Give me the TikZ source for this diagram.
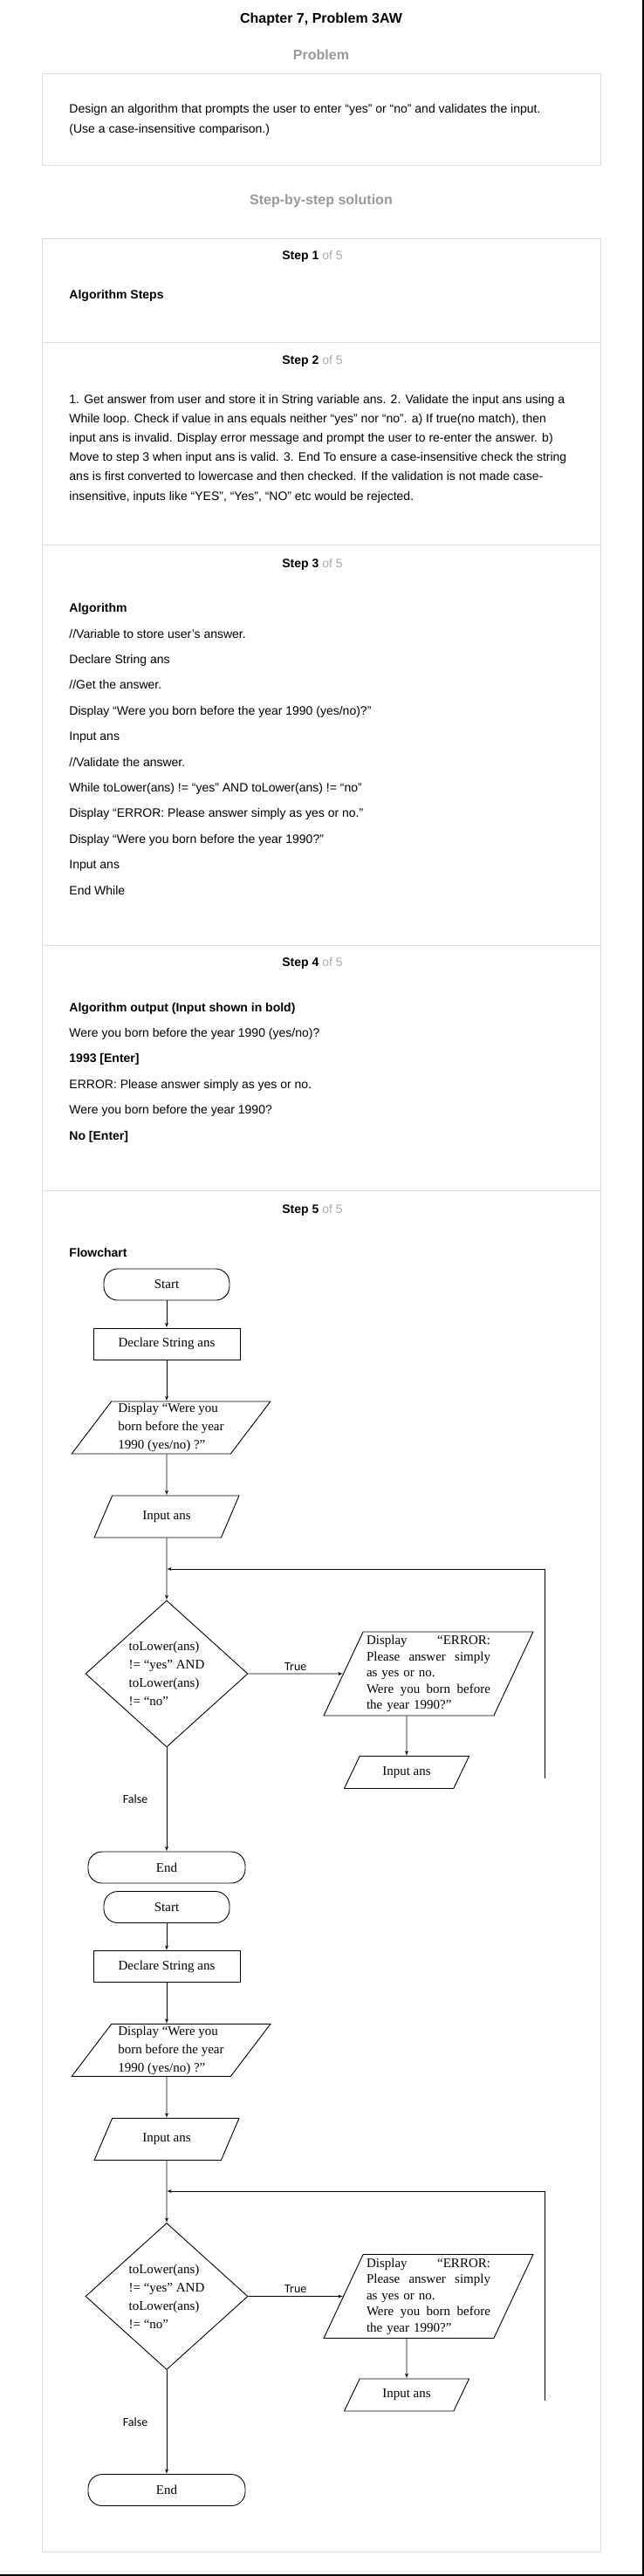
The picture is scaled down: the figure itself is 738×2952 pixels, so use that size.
\documentclass[tikz,border=0pt]{standalone}
\usepackage{fontspec}
\setmainfont{Liberation Sans}
\newfontfamily\chartfont{Liberation Serif}
\newfontfamily\calfont{Carlito}
\definecolor{panelgray}{RGB}{221, 221, 221}
\definecolor{headgray}{RGB}{153, 153, 153}
\definecolor{stepgray}{RGB}{170, 170, 170}
\usetikzlibrary{shapes,arrows}
\tikzstyle{panel} = [draw=panelgray, line width=1pt]
\tikzstyle{title} = [font=\fontsize{16}{19}\selectfont\bfseries]
\tikzstyle{heading} = [title, text=headgray]
\tikzstyle{steplabel} = [font=\fontsize{14}{17}\selectfont]
\tikzstyle{para} = [anchor=base west, align=left, inner sep=0pt,
    font=\fontsize{14}{22.2}\selectfont]
\tikzstyle{listing} = [para, font=\fontsize{14}{29.4}\selectfont]
\tikzstyle{terminal} = [rectangle, draw, rounded corners=16pt,
    minimum height=36pt, font=\chartfont\fontsize{15}{18}\selectfont]
\tikzstyle{block} = [rectangle, draw, minimum width=168pt,
    minimum height=36pt, font=\chartfont\fontsize{15}{18}\selectfont]
\tikzstyle{io} = [trapezium, draw, trapezium stretches=true, inner sep=0pt,
    align=left, font=\chartfont\fontsize{15}{21}\selectfont]
\tikzstyle{decision} = [diamond, draw, aspect=1.1, inner sep=0pt,
    minimum width=186pt, minimum height=168pt, align=left,
    font=\chartfont\fontsize{15}{21}\selectfont]
\tikzstyle{branch} = [font=\calfont\fontsize{14}{17}\selectfont]
\tikzstyle{line} = [draw, -latex']

\begin{document}
\begin{tikzpicture}[x=1pt, y=-1pt, node distance=68pt, auto,
    line width=0.9pt]
  \useasboundingbox (0,0) rectangle (738,2952);
  \fill [white] (0,0) rectangle (738,2952);
  \draw [line width=2pt] (0,2951) -- (737,2951) -- (737,0);

  % page frame
  \node [title] (chapter) at (368,22) {Chapter 7, Problem 3AW};
  \node [heading] (problem) at (368,63) {Problem};
  \draw [panel] (48,84) rectangle (688,189);
  \node [para] (question) at (79,152)
    {Design an algorithm that prompts the user to enter “yes” or “no” and validates the input.\\
     (Use a case-insensitive comparison.)};
  \node [heading] (solution) at (368,230) {Step-by-step solution};
  \draw [panel] (48,273) rectangle (688,2924);
  \draw [panel] (48,392) -- (688,392);
  \draw [panel] (48,624) -- (688,624);
  \draw [panel] (48,1083) -- (688,1083);
  \draw [panel] (48,1364) -- (688,1364);

  % steps (base = last line)
  \node [steplabel] (step1) at (358,294) {\textbf{Step 1} \textcolor{stepgray}{of 5}};
  \node [para] (steps) at (79,342) {\textbf{Algorithm Steps}};
  \node [steplabel] (step2) at (358,414) {\textbf{Step 2} \textcolor{stepgray}{of 5}};
  \node [para] (plan) at (79,573)
    {1. Get answer from user and store it in String variable ans. 2. Validate the input ans using a\\
     While loop. Check if value in ans equals neither “yes” nor “no”. a) If true(no match), then\\
     input ans is invalid. Display error message and prompt the user to re-enter the answer. b)\\
     Move to step 3 when input ans is valid. 3. End To ensure a case-insensitive check the string\\
     ans is first converted to lowercase and then checked. If the validation is not made case-\\
     insensitive, inputs like “YES”, “Yes”, “NO” etc would be rejected.};
  \node [steplabel] (step3) at (358,647) {\textbf{Step 3} \textcolor{stepgray}{of 5}};
  \node [listing] (algo) at (79,1025)
    {\textbf{Algorithm}\\
     //Variable to store user’s answer.\\
     Declare String ans\\
     //Get the answer.\\
     Display “Were you born before the year 1990 (yes/no)?”\\
     Input ans\\
     //Validate the answer.\\
     While toLower(ans) != “yes” AND toLower(ans) != “no”\\
     Display “ERROR: Please answer simply as yes or no.”\\
     Display “Were you born before the year 1990?”\\
     Input ans\\
     End While};
  \node [steplabel] (step4) at (358,1104) {\textbf{Step 4} \textcolor{stepgray}{of 5}};
  \node [listing] (output) at (79,1306)
    {\textbf{Algorithm output (Input shown in bold)}\\
     Were you born before the year 1990 (yes/no)?\\
     \textbf{1993 [Enter]}\\
     ERROR: Please answer simply as yes or no.\\
     Were you born before the year 1990?\\
     \textbf{No [Enter]}};
  \node [steplabel] (step5) at (358,1387) {\textbf{Step 5} \textcolor{stepgray}{of 5}};
  \node [para] (flow) at (79,1440) {\textbf{Flowchart}};

  % flowchart
  \node [terminal, minimum width=144pt] (start) at (191,1472) {Start};
  \node [block, below of=start] (decl) {Declare String ans};
  \node [io, trapezium left angle=54, trapezium right angle=126,
    minimum width=228pt, minimum height=60pt, below of=decl,
    node distance=96pt, xshift=5pt] (disp)
    {Display “Were you\\born before the year\\1990 (yes/no) ?”};
  \node [io, trapezium left angle=55, trapezium right angle=125,
    minimum width=167pt, minimum height=48pt, below of=disp,
    node distance=102pt, xshift=-5pt] (inp) {Input ans};
  \node [decision, below of=inp, node distance=180pt] (dec)
    {toLower(ans)\\!= “yes” AND\\toLower(ans)\\!= “no”};
  \node [io, trapezium left angle=64, trapezium right angle=116,
    minimum width=240pt, minimum height=96pt, text width=142pt,
    font=\chartfont\fontsize{15}{18.5}\selectfont,
    right of=dec, node distance=300pt] (err)
    {Display\hfill “ERROR:\\Please\hfill answer\hfill simply\\as yes or no.\\
     Were\hfill you\hfill born\hfill before\\the year 1990?”};
  \node [io, trapezium left angle=55, trapezium right angle=125,
    minimum width=144pt, minimum height=37pt, below of=err,
    node distance=113pt, xshift=-25pt] (inp_err) {Input ans};
  \node [terminal, minimum width=180pt, below of=dec,
    node distance=222pt] (end) {End};
  \coordinate (back) at (624,2038);
  \coordinate (back_top) at (624,1798);
  \path [line] (start) -- (decl);
  \path [line] (decl) -- (decl |- disp.north);
  \path [line] (inp |- disp.south) -- (inp);
  \path [line] (inp) -- (dec);
  \path [line] (dec) -- node[branch]{True} (err);
  \path [line] (inp_err |- err.south) -- (inp_err);
  \path [line] (back) -- (back_top) -- (back_top -| inp);
  \path [line] (dec) -- node[branch, left=18pt]{False} (end);

  % flowchart, second copy
  \node [terminal, minimum width=144pt, below of=end,
    node distance=45.5pt] (start2) {Start};
  \node [block, below of=start2] (decl2) {Declare String ans};
  \node [io, trapezium left angle=54, trapezium right angle=126,
    minimum width=228pt, minimum height=60pt, below of=decl2,
    node distance=96pt, xshift=5pt] (disp2)
    {Display “Were you\\born before the year\\1990 (yes/no) ?”};
  \node [io, trapezium left angle=55, trapezium right angle=125,
    minimum width=167pt, minimum height=48pt, below of=disp2,
    node distance=102pt, xshift=-5pt] (inp2) {Input ans};
  \node [decision, below of=inp2, node distance=180pt] (dec2)
    {toLower(ans)\\!= “yes” AND\\toLower(ans)\\!= “no”};
  \node [io, trapezium left angle=64, trapezium right angle=116,
    minimum width=240pt, minimum height=96pt, text width=142pt,
    font=\chartfont\fontsize{15}{18.5}\selectfont,
    right of=dec2, node distance=300pt] (err2)
    {Display\hfill “ERROR:\\Please\hfill answer\hfill simply\\as yes or no.\\
     Were\hfill you\hfill born\hfill before\\the year 1990?”};
  \node [io, trapezium left angle=55, trapezium right angle=125,
    minimum width=144pt, minimum height=37pt, below of=err2,
    node distance=113pt, xshift=-25pt] (inp_err2) {Input ans};
  \node [terminal, minimum width=180pt, below of=dec2,
    node distance=222pt] (end2) {End};
  \coordinate (back2) at (624,2751);
  \coordinate (back_top2) at (624,2511);
  \path [line] (start2) -- (decl2);
  \path [line] (decl2) -- (decl2 |- disp2.north);
  \path [line] (inp2 |- disp2.south) -- (inp2);
  \path [line] (inp2) -- (dec2);
  \path [line] (dec2) -- node[branch]{True} (err2);
  \path [line] (inp_err2 |- err2.south) -- (inp_err2);
  \path [line] (back2) -- (back_top2) -- (back_top2 -| inp2);
  \path [line] (dec2) -- node[branch, left=18pt]{False} (end2);
\end{tikzpicture}
\end{document}
